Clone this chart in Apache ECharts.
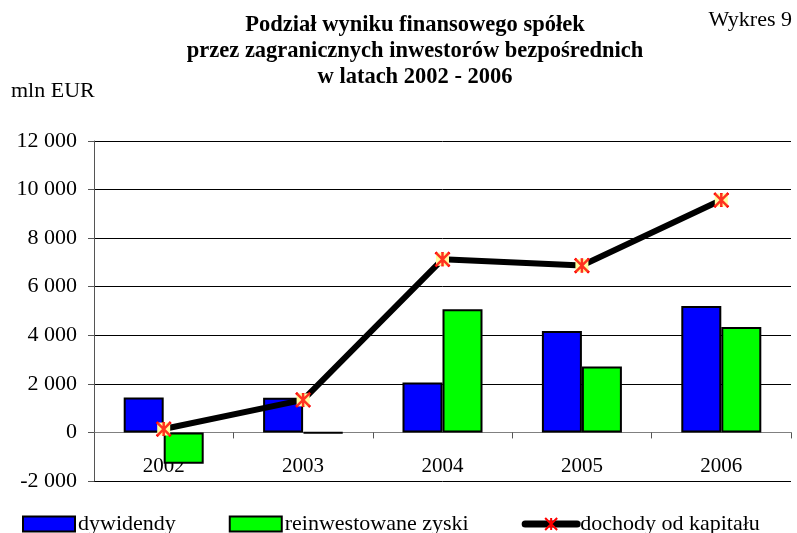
<!DOCTYPE html>
<html>
<head>
<meta charset="utf-8">
<script src="https://cdn.jsdelivr.net/npm/echarts@6/dist/echarts.min.js"></script>
<style>
  html, body { margin: 0; padding: 0; background: #fff; }
  #chart { width: 797px; height: 533px; }
</style>
</head>
<body>
<div id="chart"></div>
<script>
var years = ['2002', '2003', '2004', '2005', '2006'];
var dywidendy = [1440, 1430, 2060, 4180, 5210];
var reinwestowane = [-1290, -30, 5070, 2710, 4340];
var dochody = [140, 1340, 7130, 6870, 9570];
var yTicks = [-2000, 0, 2000, 4000, 6000, 8000, 10000, 12000];

var FONT = '"Liberation Serif", "Times New Roman", serif';
var STAR = 'path://M0,0L10,10M10,0L0,10M5,0L5,10';

function fmt(v) {
  var s = String(Math.abs(v));
  s = s.replace(/\B(?=(\d{3})+(?!\d))/g, ' ');
  return (v < 0 ? '-' : '') + s;
}

var chart = echarts.init(document.getElementById('chart'));
chart.setOption({
  animation: false,
  textStyle: { fontFamily: FONT, color: '#000' },
  title: [
    {
      text: 'Podział wyniku finansowego spółek\nprzez zagranicznych inwestorów bezpośrednich\nw latach 2002 - 2006',
      left: 410, top: 7, textAlign: 'center',
      textStyle: { fontFamily: FONT, fontSize: 22.5, fontWeight: 'bold', lineHeight: 26, color: '#000' }
    },
    {
      text: 'Wykres 9', right: 0, top: 4,
      textStyle: { fontFamily: FONT, fontSize: 22, fontWeight: 'normal', color: '#000' }
    },
    {
      text: 'mln EUR', left: 6, top: 75,
      textStyle: { fontFamily: FONT, fontSize: 22, fontWeight: 'normal', color: '#000' }
    }
  ],
  legend: {
    left: 17, top: 508,
    itemWidth: 52, itemHeight: 15, itemGap: 53,
    textStyle: { fontFamily: FONT, fontSize: 22, color: '#000', padding: [0, 0, 0, -2] },
    data: [
      { name: 'dywidendy', icon: 'rect' },
      { name: 'reinwestowane zyski', icon: 'rect' },
      { name: 'dochody od kapitału', lineStyle: { width: 7, cap: 'round' } }
    ]
  },
  grid: { left: 94, right: 6, top: 141, bottom: 52 },
  xAxis: {
    type: 'category',
    data: years,
    axisLine: { onZero: true, lineStyle: { color: '#808080', width: 1 } },
    axisTick: { show: true, length: 6, inside: false, lineStyle: { color: '#555' } },
    axisLabel: { margin: -25, fontSize: 21, fontFamily: FONT, color: '#000' },
    splitLine: { show: false }
  },
  yAxis: {
    type: 'value',
    min: yTicks[0], max: yTicks[yTicks.length - 1], interval: 2000,
    axisLine: { show: true, lineStyle: { color: '#555', width: 1 } },
    axisTick: { show: true, length: 6, lineStyle: { color: '#555' } },
    axisLabel: { margin: 17, fontSize: 22, fontFamily: FONT, color: '#000', formatter: fmt },
    splitLine: { show: true, lineStyle: { color: '#000', width: 1 } }
  },
  series: [
    {
      name: 'dywidendy', type: 'bar', data: dywidendy,
      barWidth: 40, barGap: '0%',
      itemStyle: { color: '#0000ff', borderColor: '#000', borderWidth: 2 }
    },
    {
      name: 'reinwestowane zyski', type: 'bar', data: reinwestowane,
      barWidth: 40, barGap: '0%',
      itemStyle: { color: '#00ff00', borderColor: '#000', borderWidth: 2 }
    },
    {
      name: 'dochody od kapitału', type: 'line', data: dochody,
      z: 3,
      lineStyle: { color: '#000', width: 6 },
      symbol: STAR, symbolSize: 14,
      itemStyle: { color: '#ffff99', borderColor: '#ff0000', borderWidth: 2.5 }
    },
    {
      name: 'tło', type: 'scatter', data: dochody, z: 4,
      symbol: 'rect', symbolSize: 13, silent: true,
      itemStyle: { color: '#ffffa0', opacity: 1 }
    },
    {
      name: 'znacznik', type: 'scatter', data: dochody, z: 5,
      symbol: STAR, symbolSize: 14, silent: true,
      itemStyle: { color: 'none', borderColor: '#ff0000', borderWidth: 2.5 }
    }
  ]
});
</script>
</body>
</html>
